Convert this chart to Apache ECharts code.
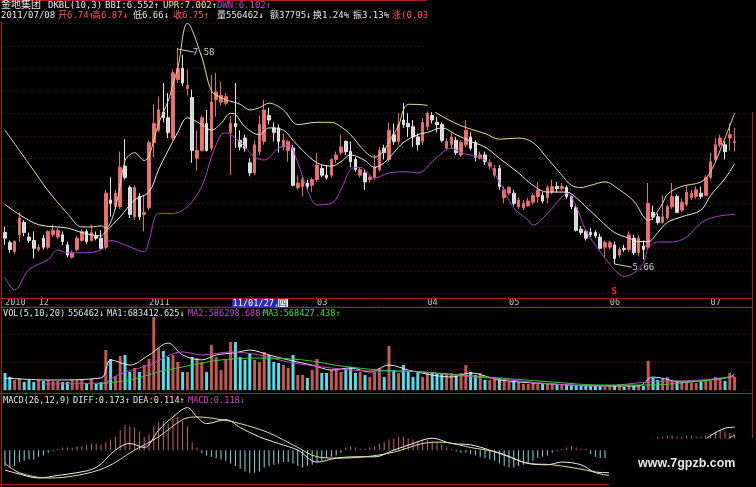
<!DOCTYPE html>
<html><head><meta charset="utf-8">
<script src="https://cdn.jsdelivr.net/npm/echarts/dist/echarts.min.js"></script>
<style>html,body{margin:0;padding:0;background:#000;}#c{width:756px;height:487px;}</style>
</head><body><div id="c"></div>
<script>
// ---------- DATA ----------
const opens = [5.94,5.85,5.77,5.92,6.03,5.90,5.87,5.79,5.89,5.81,
5.92,5.90,5.92,5.83,5.72,5.79,5.87,5.95,5.87,5.91,
5.89,5.81,6.23,6.17,6.17,6.53,6.34,6.08,6.26,6.10,
6.16,6.74,6.85,7.01,6.96,6.78,7.30,7.40,7.22,7.14,
6.60,6.67,6.91,6.69,7.12,7.10,7.09,6.83,6.91,6.76,
6.78,6.56,6.47,6.66,6.75,6.98,6.87,6.87,6.70,6.67,
6.69,6.34,6.35,6.38,6.36,6.41,6.51,6.45,6.45,6.59,
6.65,6.75,6.66,6.59,6.45,6.47,6.41,6.43,6.50,6.69,
6.59,6.81,6.75,6.94,6.91,6.88,6.79,6.75,6.88,6.98,
6.92,6.90,6.69,6.72,6.76,6.63,6.72,6.79,6.74,6.60,
6.63,6.53,6.45,6.51,6.25,6.29,6.29,6.17,6.16,6.18,
6.21,6.26,6.27,6.25,6.30,6.35,6.33,6.34,6.26,6.16,
5.97,5.95,5.94,5.94,5.90,5.81,5.81,5.83,5.74,5.80,
5.79,5.89,5.76,5.82,5.81,6.12,6.08,6.03,6.07,6.17,
6.26,6.14,6.19,6.25,6.26,6.29,6.27,6.43,6.59,6.72,
6.72,6.78,6.74];
const closes = [5.89,5.79,5.86,6.07,5.94,5.87,5.80,5.81,5.81,5.95,
5.96,5.96,5.86,5.74,5.76,5.89,5.95,5.86,5.94,5.89,
5.80,6.29,6.20,6.29,6.52,6.43,6.10,6.34,6.08,6.12,
6.74,6.91,7.03,6.96,6.83,7.36,7.40,7.27,7.25,6.67,
6.67,6.96,6.67,7.10,7.19,7.16,7.15,6.91,6.88,6.70,
6.69,6.47,6.72,6.90,7.03,6.94,6.83,6.75,6.76,6.75,
6.36,6.38,6.41,6.35,6.41,6.54,6.45,6.43,6.59,6.63,
6.70,6.66,6.57,6.50,6.50,6.39,6.43,6.52,6.67,6.65,
6.85,6.75,6.90,6.90,6.88,6.79,6.72,6.92,7.00,6.94,
6.90,6.76,6.75,6.79,6.65,6.74,6.85,6.69,6.61,6.63,
6.57,6.56,6.51,6.35,6.32,6.34,6.20,6.23,6.20,6.22,
6.27,6.32,6.22,6.34,6.35,6.33,6.35,6.26,6.17,5.96,
5.94,5.89,5.92,5.91,5.80,5.85,5.85,5.71,5.79,5.79,
5.92,5.76,5.89,5.79,6.20,6.08,6.03,6.08,6.17,6.26,
6.12,6.21,6.30,6.29,6.32,6.26,6.43,6.57,6.72,6.78,
6.66,6.81,6.75];
const lows = [5.83,5.76,5.75,5.86,5.91,5.85,5.71,5.77,5.79,5.79,
5.90,5.88,5.83,5.72,5.71,5.77,5.86,5.84,5.86,5.87,
5.79,5.79,6.08,6.14,6.15,6.41,6.07,6.05,6.05,5.95,
6.14,6.61,6.83,6.92,6.78,6.76,7.27,7.24,7.16,6.56,
6.49,6.66,6.66,6.67,6.97,7.07,7.07,6.45,6.69,6.67,
6.66,6.44,6.45,6.63,6.72,6.90,6.75,6.65,6.67,6.57,
6.35,6.32,6.26,6.32,6.30,6.39,6.43,6.41,6.43,6.56,
6.63,6.63,6.52,6.48,6.43,6.32,6.38,6.41,6.48,6.59,
6.57,6.72,6.72,6.87,6.79,6.70,6.67,6.72,6.85,6.91,
6.83,6.74,6.67,6.69,6.63,6.61,6.70,6.67,6.57,6.59,
6.54,6.50,6.43,6.32,6.20,6.27,6.18,6.15,6.14,6.17,
6.19,6.20,6.20,6.20,6.28,6.30,6.31,6.24,6.15,5.95,
5.92,5.87,5.90,5.89,5.79,5.72,5.79,5.66,5.72,5.77,
5.77,5.74,5.73,5.70,5.79,6.05,6.01,6.02,6.05,6.15,
6.11,6.12,6.17,6.23,6.24,6.24,6.26,6.41,6.57,6.70,
6.59,6.67,6.66];
const highs = [5.99,5.87,5.87,6.12,6.05,5.94,5.95,5.84,5.92,5.96,
6.01,5.98,5.95,5.86,5.78,5.91,5.97,5.97,6.01,5.95,
5.96,6.32,6.43,6.32,6.66,6.77,6.36,6.36,6.29,6.27,
6.76,7.08,7.15,7.27,7.18,7.39,7.58,7.52,7.39,7.21,
6.85,6.98,7.03,7.34,7.36,7.28,7.18,6.98,7.27,6.85,
6.81,6.60,6.76,6.98,7.12,7.05,6.92,6.90,6.82,6.76,
6.72,6.45,6.45,6.41,6.43,6.65,6.54,6.54,6.60,6.66,
6.81,6.76,6.75,6.61,6.52,6.50,6.45,6.63,6.70,6.72,
6.92,6.91,7.00,7.09,7.00,6.94,6.82,6.96,7.03,7.01,
6.97,6.92,6.78,6.83,6.79,6.76,6.94,6.83,6.76,6.66,
6.66,6.59,6.54,6.54,6.35,6.35,6.32,6.26,6.23,6.25,
6.29,6.39,6.30,6.36,6.41,6.39,6.38,6.36,6.27,6.19,
6.00,5.97,5.98,5.96,5.93,5.87,5.87,5.86,5.81,5.83,
5.95,5.92,5.92,5.87,6.38,6.18,6.11,6.27,6.19,6.38,
6.28,6.24,6.36,6.32,6.35,6.35,6.45,6.65,6.78,6.81,
6.75,6.91,6.87];
const volumes = [729000,557000,429000,514000,343000,429000,343000,429000,386000,429000,
386000,386000,343000,343000,429000,429000,429000,300000,471000,257000,
343000,1714000,1329000,600000,1457000,1500000,771000,943000,771000,1071000,
1329000,3129000,1800000,1671000,1414000,1500000,1200000,771000,771000,1414000,
1371000,1200000,771000,1929000,1414000,857000,1286000,2057000,2057000,1414000,
1286000,1586000,1286000,1200000,1629000,1500000,1200000,1157000,1071000,943000,
1500000,643000,643000,514000,857000,1329000,729000,729000,857000,857000,
771000,857000,986000,729000,771000,643000,557000,771000,943000,557000,
1886000,857000,729000,1071000,771000,557000,729000,557000,729000,771000,
729000,729000,729000,729000,643000,729000,1071000,771000,643000,729000,
429000,429000,514000,514000,429000,343000,429000,343000,257000,257000,
300000,257000,257000,257000,257000,214000,257000,214000,214000,214000,
214000,171000,171000,171000,171000,129000,171000,171000,171000,129000,
171000,171000,214000,171000,1243000,514000,429000,471000,557000,386000,
343000,343000,343000,300000,300000,343000,429000,386000,557000,514000,
386000,729000,556462];
const macdHist = [-0.12,-0.13,-0.12,-0.09,-0.08,-0.07,-0.07,-0.05,-0.04,-0.02,
-0.01,0.01,0.02,0.02,0.02,0.03,0.03,0.04,0.05,0.05,
0.04,0.06,0.08,0.10,0.15,0.19,0.18,0.17,0.14,0.10,
0.12,0.17,0.21,0.22,0.20,0.24,0.25,0.22,0.18,0.06,
0.02,-0.02,-0.04,-0.05,-0.06,-0.07,-0.08,-0.10,-0.12,-0.14,
-0.16,-0.17,-0.17,-0.16,-0.13,-0.12,-0.11,-0.10,-0.09,-0.09,
-0.10,-0.12,-0.13,-0.12,-0.11,-0.09,-0.08,-0.06,-0.05,-0.04,
-0.02,0.02,0.03,0.02,0.01,0.01,0.02,0.03,0.05,0.06,
0.08,0.09,0.10,0.10,0.09,0.08,0.07,0.08,0.08,0.07,
0.06,0.04,0.02,0.01,-0.01,-0.02,-0.02,-0.03,-0.04,-0.05,
-0.06,-0.07,-0.08,-0.10,-0.12,-0.13,-0.13,-0.12,-0.11,-0.10,
-0.08,-0.06,-0.05,-0.04,-0.02,-0.01,0.01,0.02,0.03,0.02,
0.01,0.01,-0.03,-0.05,-0.06,-0.06,-0.05,-0.04,-0.03,-0.02,
-0.01,0.00,0.01,0.02,0.07,0.09,0.10,0.10,0.11,0.11,
0.10,0.10,0.11,0.11,0.10,0.10,0.11,0.12,0.14,0.15,
0.14,0.13,0.118];
// indicator lines: [candle index, value]
const uprLine = [[0,6.85],[3,6.67],[6,6.49],[9,6.31],[13,6.11],[16,5.99],[18,5.99],[20,6.00],[21,5.98],[23,6.16],[25,6.58],[26,6.63],[27,6.65],[29,6.58],[30,6.62],[32,6.91],[34,7.11],[35,7.26],[36,7.40],[38,7.80],[41,7.50],[43,7.20],[45,7.14],[46,7.12],[49,7.08],[51,7.03],[53,7.05],[55,7.09],[58,7.03],[61,6.90],[65,6.92],[68,6.92],[70,6.88],[72,6.81],[75,6.66],[77,6.61],[79,6.67],[80,6.75],[82,6.89],[83,7.03],[84,7.08],[88,7.07],[90,7.00],[95,6.89],[100,6.82],[103,6.77],[107,6.78],[110,6.74],[113,6.60],[116,6.45],[118,6.36],[120,6.34],[122,6.36],[125,6.39],[128,6.32],[131,6.22],[134,6.05],[135,6.07],[137,6.20],[138,6.28],[141,6.35],[145,6.39],[147,6.48],[150,6.78],[152,7.002]];
const bbiLine = [[0,6.19],[3,6.10],[7,6.01],[13,5.98],[16,5.94],[20,5.91],[21,5.95],[24,6.08],[27,6.23],[30,6.30],[32,6.50],[34,6.67],[36,6.83],[38,6.96],[41,6.90],[43,6.85],[45,6.91],[47,7.00],[48,6.99],[50,6.88],[53,6.81],[55,6.87],[58,6.85],[60,6.76],[62,6.67],[65,6.56],[68,6.53],[70,6.57],[72,6.63],[75,6.58],[77,6.52],[79,6.56],[81,6.65],[83,6.74],[86,6.81],[88,6.83],[91,6.87],[94,6.81],[97,6.75],[100,6.70],[103,6.60],[107,6.47],[110,6.36],[113,6.30],[117,6.30],[119,6.25],[121,6.17],[124,6.05],[127,5.94],[130,5.89],[132,5.86],[134,5.86],[136,5.94],[138,6.03],[141,6.08],[145,6.14],[147,6.27],[150,6.42],[152,6.552]];
const dwnLine = [[0,5.54],[2,5.43],[5,5.61],[9,5.70],[11,5.785],[13,5.76],[16,5.76],[20,5.785],[22,5.87],[25,5.83],[29,5.77],[30,5.87],[32,6.11],[35,6.11],[38,6.17],[41,6.35],[43,6.61],[45,6.81],[46,6.825],[48,6.78],[50,6.70],[52,6.61],[54,6.585],[57,6.69],[59,6.72],[61,6.56],[63,6.32],[65,6.185],[68,6.20],[70,6.32],[72,6.50],[74,6.52],[77,6.425],[80,6.47],[84,6.48],[86,6.47],[90,6.61],[93,6.69],[95,6.65],[100,6.585],[103,6.39],[106,6.16],[109,6.05],[110,6.007],[113,6.11],[116,6.256],[117,6.29],[119,6.17],[121,5.96],[124,5.77],[127,5.61],[129,5.55],[131,5.58],[133,5.67],[134,5.80],[136,5.856],[139,5.856],[142,5.90],[145,6.025],[148,6.08],[152,6.102]];
const volMa1 = [[0,514000],[9,429000],[20,514000],[22,1290000],[26,1070000],[30,1500000],[34,2010000],[37,1500000],[41,1290000],[44,1500000],[48,1600000],[51,1710000],[55,1500000],[59,1290000],[64,1070000],[68,857000],[72,943000],[76,771000],[80,1070000],[84,857000],[89,643000],[93,557000],[97,729000],[103,429000],[114,257000],[124,171000],[132,171000],[135,557000],[141,343000],[145,386000],[151,557000],[152,683413]];
const volMa2 = [[8,257000],[20,300000],[24,686000],[30,1070000],[37,1630000],[41,1500000],[47,1630000],[53,1500000],[59,1200000],[68,943000],[76,814000],[84,814000],[93,643000],[103,471000],[114,257000],[124,171000],[134,343000],[145,429000],[152,586299]];
const volMa3 = [[19,257000],[26,429000],[32,771000],[39,1070000],[45,1290000],[53,1370000],[62,1290000],[70,1030000],[78,857000],[87,771000],[95,643000],[103,514000],[114,343000],[124,214000],[134,214000],[145,386000],[152,568427]];
const diffLine = [[0,-0.15],[2,-0.17],[7,-0.21],[11,-0.19],[15,-0.17],[19,-0.13],[23,0],[26,0.05],[29,0.02],[32,0.15],[35,0.25],[38,0.32],[40,0.25],[42,0.20],[46,0.23],[49,0.17],[53,0.10],[57,0.05],[61,0],[65,-0.09],[69,-0.06],[73,-0.05],[77,-0.05],[81,0],[85,0.05],[89,0.09],[93,0.05],[97,0.04],[101,0],[105,-0.05],[109,-0.10],[113,-0.11],[116,-0.09],[120,-0.11],[123,-0.165],[126,-0.17],[132,-0.15],[141,-0.04],[147,0.11],[150,0.165],[152,0.173]];
const deaLine = [[0,-0.10],[3,-0.17],[9,-0.21],[15,-0.19],[21,-0.13],[27,0],[32,0.10],[37,0.23],[40,0.25],[45,0.23],[49,0.20],[55,0.13],[61,0.02],[65,-0.05],[69,-0.06],[75,-0.05],[81,-0.015],[87,0.05],[91,0.06],[97,0.02],[103,-0.02],[109,-0.10],[114,-0.11],[121,-0.15],[126,-0.19],[132,-0.19],[145,-0.015],[152,0.114]];
const tickLabels = {0:'2010',7:'12',30:'2011',65:'03',88:'04',105:'05',126:'06',147:'07'};
const slotCount = 156;

// ---------- CHART ----------
const cats = Array.from({length: slotCount}, (_, i) => String(i));
const ohlc = opens.map((o, i) => [o, closes[i], lows[i], highs[i]]);
const isUp = i => closes[i] >= opens[i];
const MONO = '"DejaVu Sans Mono","Noto Sans CJK SC",monospace';
const GRID = {color: '#6e1818', type: [1, 3], width: 1};
const L = 2.6, R = 4.6;
const hideAx = {axisLine:{show:false}, axisTick:{show:false}, axisLabel:{show:false}};

const chart = echarts.init(document.getElementById('c'), null, {renderer: 'canvas'});
const option = {
  backgroundColor: '#000',
  animation: false,
  grid: [
    {left: L, right: R, top: 23.3, height: 270},
    {left: L, right: R, top: 306, height: 84},
    {left: L, right: R, top: 405, height: 77}
  ],
  xAxis: [
    {type:'category', gridIndex:0, data:cats, axisLine:{show:false}, axisTick:{show:false}, splitLine:{show:false},
     axisLabel:{show:true, interval:(i)=>tickLabels[i]!==undefined, formatter:(v,i)=>tickLabels[i]||'',
       color:'#a9c9c9', fontSize:8.6, fontFamily:MONO, align:'left', margin:5}},
    Object.assign({type:'category', gridIndex:1, data:cats}, hideAx),
    Object.assign({type:'category', gridIndex:2, data:cats}, hideAx)
  ],
  yAxis: [
    Object.assign({type:'value', gridIndex:0, min:5.4, max:7.8, interval:0.2, splitLine:{lineStyle:GRID}}, hideAx),
    Object.assign({type:'value', gridIndex:1, min:0, max:3600000, interval:1200000, splitLine:{lineStyle:GRID}}, hideAx),
    Object.assign({type:'value', gridIndex:2, min:-0.24, max:0.34, splitLine:{show:false}}, hideAx)
  ],
  series: [
    {type:'candlestick', xAxisIndex:0, yAxisIndex:0, data:ohlc, barWidth:3,
     itemStyle:{color:'#e27676', color0:'#d6d6d6', borderColor:'#e86a6a', borderColor0:'#e4e4e4', borderWidth:1}},
    {type:'line', xAxisIndex:0, yAxisIndex:0, data:uprLine, smooth:0.35, showSymbol:false, lineStyle:{color:'#e4dca4', width:1}},
    {type:'line', xAxisIndex:0, yAxisIndex:0, data:bbiLine, smooth:0.35, showSymbol:false, lineStyle:{color:'#ececec', width:1}},
    {type:'line', xAxisIndex:0, yAxisIndex:0, data:dwnLine, smooth:0.35, showSymbol:false, lineStyle:{color:'#a646c0', width:1}},
    {type:'bar', xAxisIndex:1, yAxisIndex:1, barWidth:3,
     data: volumes.map((v,i)=>({value:v, itemStyle:{color: isUp(i)?'#bf5a55':'#5adbea'}}))},
    {type:'line', xAxisIndex:1, yAxisIndex:1, data:volMa1, smooth:0.35, showSymbol:false, lineStyle:{color:'#e6e6e6', width:1}},
    {type:'line', xAxisIndex:1, yAxisIndex:1, data:volMa2, smooth:0.35, showSymbol:false, lineStyle:{color:'#c048c8', width:1}},
    {type:'line', xAxisIndex:1, yAxisIndex:1, data:volMa3, smooth:0.35, showSymbol:false, lineStyle:{color:'#3fc83f', width:1}},
    {type:'bar', xAxisIndex:2, yAxisIndex:2, barWidth:1,
     data: macdHist.map(v=>({value:v, itemStyle:{color: v>=0?'#c86464':'#86d8e2'}}))},
    {type:'line', xAxisIndex:2, yAxisIndex:2, data:diffLine, smooth:0.35, showSymbol:false, lineStyle:{color:'#eeeeee', width:1}},
    {type:'line', xAxisIndex:2, yAxisIndex:2, data:deaLine, smooth:0.35, showSymbol:false, lineStyle:{color:'#e4dca4', width:1}}
  ]
};
chart.setOption(option);

// ---------- DECORATION / TEXT ----------
const px = (g, i, v) => chart.convertToPixel({xAxisIndex:g, yAxisIndex:g}, [i, v]);
const RED = '#b01e1e';
const ln = (x1,y1,x2,y2,c,z) => ({type:'line', z:z||40, shape:{x1,y1,x2,y2}, style:{stroke:c||RED, lineWidth:1}});
const T = (x, y, s, c, fs, extra) => ({type:'text', z:60, x, y,
  style:Object.assign({text:s, fill:c, font:(fs||9)+'px '+MONO, verticalAlign:'middle'}, extra||{})});
const W = '#e8e8e8', RD = '#ff5a5a', MG = '#cc44cc', GR = '#44dd44', CR = '#ece4b0';

const hi = px(0, 36, highs[36]);
const lo = px(0, 127, lows[127]);
const dbx = px(0, 47, 6)[0];
const sx = px(0, 127, 6)[0];

const g = [
  // borders
  ln(0,0.5,427,0.5), ln(1.5,22,1.5,487), ln(752.5,112,752.5,438),
  ln(1,298.5,752,298.5), ln(1,307.5,752,307.5), ln(0,393.5,752,393.5), ln(0,484.5,609,484.5),
  // date crosshair box
  {type:'rect', z:45, shape:{x:dbx+1.5, y:299, width:46, height:8}, style:{fill:'#2a2ab4'}},
  {type:'rect', z:45, shape:{x:dbx+47.5, y:299, width:10, height:8}, style:{fill:'#f0f0f0'}},
  T(dbx+2, 303.3, '11/01/27,', '#ffffff', 8.6),
  T(dbx+48, 303.3, '四', '#2a2ab4', 8.5),
  // S marker
  T(sx-3, 292, 'S', '#ff2a2a', 9, {font:'bold 9px '+MONO}),
  // high / low annotations
  ln(hi[0], hi[1]+1, hi[0]+16, hi[1]+4, '#cfcfcf', 55),
  T(hi[0]+15, hi[1]+5, '7.58', '#cfcfcf', 9),
  ln(lo[0], lo[1], lo[0]+17, lo[1]+3, '#cfcfcf', 55),
  T(lo[0]+18, lo[1]+4, '5.66', '#cfcfcf', 9),
  // overlays
  {type:'rect', z:90, shape:{x:427.5, y:0, width:330, height:112}, style:{fill:'#000'}},
  {type:'rect', z:90, shape:{x:609, y:438.5, width:148, height:49}, style:{fill:'#000'}},
  {type:'text', z:95, x:638, y:463.5, style:{text:'www.7gpzb.com', fill:'#e8e8e8', font:'bold 12.5px "Liberation Sans",Arial,sans-serif', verticalAlign:'middle'}},
  // header row 1
  T(1, 5.5, '金地集团', W, 10), T(48, 5.5, 'DKBL(10,3)', W), T(105, 5.5, 'BBI:6.552↑', W),
  T(163, 5.5, 'UPR:7.002↑', CR), T(217, 5.5, 'DWN:6.102↑', MG),
  // header row 2
  T(1, 15.5, '2011/07/08', W), T(58, 15.5, '开6.74↑', RD), T(92, 15.5, '高6.87↓', RD),
  T(133, 15.5, '低6.66↓', W), T(173, 15.5, '收6.75↑', RD), T(217, 15.5, '量556462↓', W),
  T(270, 15.5, '额37795↓', W), T(313, 15.5, '换1.24%', W), T(353, 15.5, '振3.13%', W),
  T(392, 15.5, '涨(0.03', RD),
  // volume header
  T(3, 313.5, 'VOL(5,10,20)', W, 8.6), T(68, 313.5, '556462↓', W, 8.6), T(107, 313.5, 'MA1:683412.625↓', W, 8.6),
  T(188, 313.5, 'MA2:586298.688↑', MG, 8.6), T(263, 313.5, 'MA3:568427.438↑', GR, 8.6),
  // macd header
  T(3, 400.5, 'MACD(26,12,9)', W, 8.6), T(73, 400.5, 'DIFF:0.173↑', W, 8.6), T(133, 400.5, 'DEA:0.114↑', CR, 8.6),
  T(188, 400.5, 'MACD:0.118↓', MG, 8.6)
];
chart.setOption({graphic: g});
</script></body></html>
